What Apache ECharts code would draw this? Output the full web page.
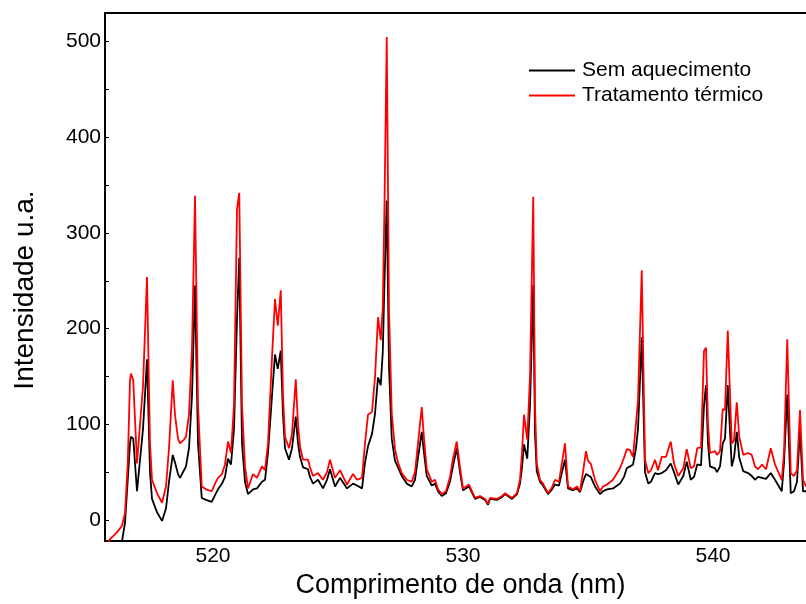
<!DOCTYPE html>
<html>
<head>
<meta charset="utf-8">
<script src="https://cdn.jsdelivr.net/npm/echarts@6/dist/echarts.min.js"></script>
<style>
html,body{margin:0;padding:0;background:#fff;}
#chart{width:806px;height:604px;}
</style>
</head>
<body>
<div id="chart"></div>
<script>
// Wavelength (nm)
const wavelength = [515.70,515.88,516.16,516.36,516.48,516.59,516.68,516.72,516.81,516.96,517.20,517.36,517.48,517.56,517.76,517.96,518.12,518.24,518.39,518.48,518.60,518.68,518.84,518.92,519.04,519.16,519.28,519.40,519.55,519.72,519.95,520.08,520.20,520.36,520.48,520.60,520.72,520.84,520.96,521.05,521.16,521.28,521.40,521.60,521.76,521.96,522.08,522.20,522.36,522.48,522.59,522.71,522.80,522.88,523.04,523.16,523.31,523.40,523.48,523.60,523.80,523.88,524.00,524.20,524.40,524.56,524.68,524.88,525.08,525.16,525.36,525.60,525.76,525.96,526.08,526.20,526.36,526.48,526.60,526.71,526.79,526.86,526.95,527.04,527.15,527.28,527.40,527.55,527.75,527.95,528.08,528.20,528.35,528.44,528.55,528.75,528.88,529.00,529.15,529.32,529.48,529.59,529.75,529.88,530.00,530.24,530.48,530.68,530.88,531.00,531.08,531.36,531.56,531.68,531.96,532.16,532.28,532.36,532.44,532.57,532.68,532.81,532.88,532.95,533.08,533.20,533.40,533.56,533.68,533.84,533.96,534.08,534.20,534.40,534.56,534.68,534.80,534.92,535.00,535.11,535.28,535.48,535.60,535.76,536.00,536.28,536.44,536.55,536.68,536.80,536.92,537.00,537.15,537.28,537.41,537.52,537.68,537.80,537.95,538.12,538.31,538.44,538.61,538.81,538.95,539.11,539.24,539.37,539.52,539.64,539.72,539.80,539.88,540.08,540.16,540.28,540.39,540.48,540.59,540.75,540.84,540.95,541.05,541.21,541.40,541.55,541.68,541.80,541.96,542.12,542.31,542.48,542.75,542.84,542.97,543.11,543.24,543.36,543.48,543.60,543.72,543.88];
// Sem aquecimento (black)
const semAquecimento = [-50,-40,-35,-22,-3,42,80,87,85,30,95,168,50,22,8,-1,12,40,68,60,48,44,52,56,75,130,245,80,23,21,19,26,32,38,45,64,58,95,210,274,80,40,27,32,33,40,42,70,130,173,158,177,110,75,63,75,108,80,66,55,53,45,38,42,33,42,53,35,44,46,33,38,36,33,60,77,90,111,149,141,175,250,334,160,85,62,55,46,38,35,42,65,92,70,46,36,38,30,25,28,40,55,75,50,31,35,22,24,21,16,22,21,24,27,22,27,38,55,79,64,120,246,90,51,40,36,27,32,37,36,50,63,33,31,33,29,40,48,50,45,35,27,30,32,33,38,45,54,56,58,75,95,191,50,38,40,49,48,49,52,59,50,37,46,61,42,45,58,57,120,141,80,56,54,50,56,80,85,141,56,65,92,65,51,49,46,42,45,44,43,49,42,30,60,131,28,30,40,94,30,30,32];
// Tratamento térmico (red)
const tratamentoTermico = [-28,-20,-13,-6,7,59,146,153,146,59,140,254,80,42,28,18,35,75,146,110,85,80,84,87,110,180,339,120,35,32,30,38,44,48,58,82,70,120,325,342,120,56,33,48,44,56,52,80,170,231,203,240,130,87,75,90,147,100,77,63,63,55,46,49,42,50,63,44,52,53,37,48,42,44,80,110,113,149,212,188,222,330,505,220,111,74,60,49,42,40,50,80,118,85,53,40,42,32,27,30,45,63,82,55,33,37,23,25,22,17,23,22,25,28,23,28,42,70,110,84,150,338,120,59,42,38,28,34,42,40,60,80,35,32,35,30,50,72,62,59,42,30,35,37,42,54,65,74,73,66,101,125,261,63,49,52,63,52,66,66,82,59,46,54,74,54,56,75,76,177,180,100,70,72,68,72,116,115,198,80,83,123,87,68,70,68,56,53,58,53,75,58,42,70,189,49,46,52,115,42,35,40];
const seriesNames = ['Sem aquecimento', 'Tratamento térmico'];
const xTickLabels = [520, 530, 540];
const yTickLabels = [0, 100, 200, 300, 400, 500];
const yMinorTicks = [0, 50, 100, 150, 200, 250, 300, 350, 400, 450, 500];

const pairs = vals => wavelength.map((w, i) => [w, vals[i]]);
const FONT = '"Liberation Sans", Arial, sans-serif';

const chart = echarts.init(document.getElementById('chart'), null, {renderer: 'canvas'});
chart.setOption({
  animation: false,
  backgroundColor: '#ffffff',
  textStyle: {fontFamily: FONT, color: '#000'},
  grid: {left: 105, right: 0, top: 13, bottom: 59, containLabel: false},
  legend: {
    orient: 'vertical',
    left: 529, top: 60, padding: 0,
    icon: 'rect',
    itemWidth: 46, itemHeight: 2, itemGap: 4,
    textStyle: {fontFamily: FONT, fontSize: 21, color: '#000', padding: [0, 0, 0, 2]},
    data: seriesNames
  },
  graphic: [{
    type: 'text', x: 25, y: 290, rotation: Math.PI / 2,
    style: {text: 'Intensidade u.a.', font: '28px "Liberation Sans", Arial, sans-serif',
            fill: '#000', align: 'center', verticalAlign: 'middle'}
  }],
  xAxis: [{
    type: 'value', min: 515.68, max: 543.72,
    name: 'Comprimento de onda (nm)', nameLocation: 'middle', nameGap: 31,
    nameTextStyle: {fontFamily: FONT, fontSize: 27, color: '#000', padding: [0, 0, 0, 10]},
    axisLine: {show: true, onZero: false, lineStyle: {color: '#000', width: 2}},
    axisTick: {show: false},
    splitLine: {show: false},
    axisLabel: {customValues: xTickLabels, fontFamily: FONT, fontSize: 21, color: '#000', margin: 5}
  }, {
    type: 'value', position: 'top', min: 515.68, max: 543.72,
    axisLine: {show: true, onZero: false, lineStyle: {color: '#000', width: 2}},
    axisTick: {show: false}, axisLabel: {show: false}, splitLine: {show: false}
  }],
  yAxis: {
    type: 'value', min: -22, max: 530,
    axisLine: {show: true, onZero: false, lineStyle: {color: '#000', width: 2}},
    axisTick: {show: true, inside: true, length: 4, customValues: yMinorTicks, lineStyle: {color: '#000', width: 1}},
    splitLine: {show: false},
    axisLabel: {customValues: yTickLabels, fontFamily: FONT, fontSize: 21, color: '#000', margin: 4}
  },
  series: [{
    name: seriesNames[0], type: 'line', data: pairs(semAquecimento),
    symbol: 'none', clip: true, z: 2,
    lineStyle: {color: '#000', width: 1.8}, itemStyle: {color: '#000'}
  }, {
    name: seriesNames[1], type: 'line', data: pairs(tratamentoTermico),
    symbol: 'none', clip: true, z: 3,
    lineStyle: {color: '#ff0000', width: 1.8}, itemStyle: {color: '#ff0000'}
  }]
});
</script>
</body>
</html>
